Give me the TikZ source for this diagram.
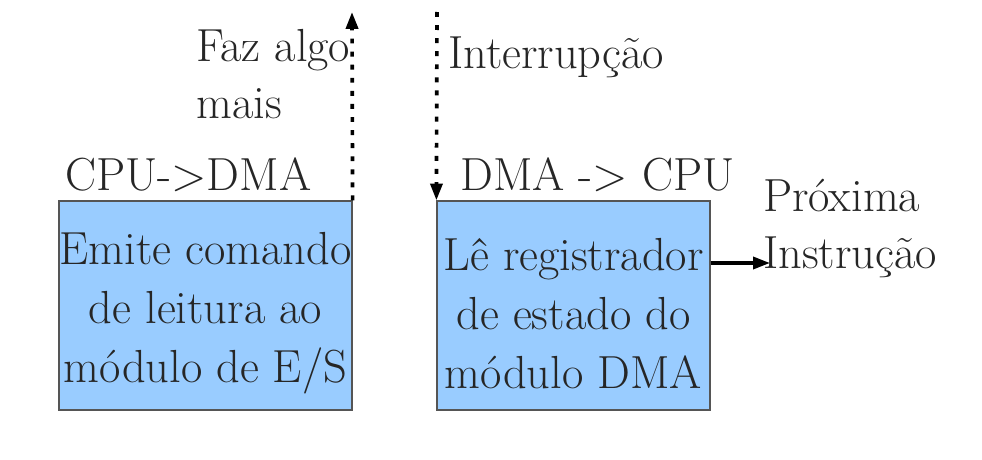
\documentclass[tikz,border=0pt]{standalone}
\usepackage{fontspec}
\usetikzlibrary{arrows.meta}
\definecolor{boxblue}{RGB}{153,204,255}
\definecolor{boxline}{RGB}{85,85,85}
\definecolor{inkgray}{RGB}{38,38,38}
\newcommand{\topgap}{\rule{0pt}{34pt}}
\tikzset{
	stepbox/.style={draw=boxline,fill=boxblue,line width=0.8pt,minimum width=7.325cm,minimum height=5.225cm,align=center,inner sep=0pt,text=inkgray},
	lbl/.style={anchor=base west,inner sep=0pt,align=left,text=inkgray,font=\fontsize{33}{40}\selectfont},
	dotarrow/.style={line width=2.6pt,dash pattern=on 3.5pt off 5.8pt,-{Triangle[length=12pt,width=8.5pt]}},
	solidarrow/.style={line width=2.4pt,-{Triangle[length=12pt,width=8.5pt]}}
}
\begin{document}
\begin{tikzpicture}[x=0.025cm,y=-0.025cm,font=\fontsize{33}{42}\selectfont]
	\useasboundingbox (0,0) rectangle (982,460);
	\node[stepbox] (emite) at (205.5,305.5) {\topgap Emite comando\\de leitura ao\\módulo de E/S};
	\node[stepbox,minimum width=6.825cm] (le) at (573.5,305.5) {\topgap Lê registrador\\de estado do\\módulo DMA};
	\node[lbl] (cpudma) at (65,190) {CPU->DMA};
	\node[lbl] (dmacpu) at (460,190) {DMA -> CPU};
	\node[lbl] (faz) at (196,118) {Faz algo\\mais};
	\node[lbl] (interr) at (448,68) {Interrupção};
	\node[lbl] (prox) at (763,268) {Próxima\\Instrução};
	\coordinate (fazpt) at (352,12);
	\coordinate (intpt) at (437,12);
	\coordinate (nextpt) at (770,263);
	\draw[dotarrow] (emite.north east) -- (fazpt);
	\draw[dotarrow] (intpt) -- (le.north west);
	\draw[solidarrow] (le.east |- nextpt) -- (nextpt);
\end{tikzpicture}
\end{document}
